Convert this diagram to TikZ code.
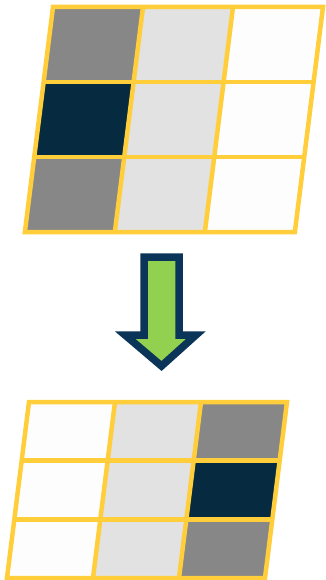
\documentclass[tikz,border=0pt]{standalone}
\usepackage{xcolor}
\usepackage{tikz}

\definecolor{gridyellow}{HTML}{FFCE3A}
\definecolor{celldark}{HTML}{062A3F}
\definecolor{cellgray}{HTML}{878787}
\definecolor{celllight}{HTML}{E2E2E2}
\definecolor{cellwhite}{HTML}{FDFDFD}
\definecolor{arrowgreen}{HTML}{92D050}
\definecolor{arrownavy}{HTML}{0B3558}

\tikzset{
    cell/.style={draw=black!35, line width=0.6pt},
    gridline/.style={draw=gridyellow, line width=4.5pt, line join=miter},
    bigarrow/.style={fill=arrowgreen, draw=arrownavy, line width=7.5pt, line join=miter}
}

\begin{document}
\begin{tikzpicture}[x=1pt, y=-1pt]

    \useasboundingbox (0,0) rectangle (326,580);

    % Top grid (before)
    \begin{scope}[shift={(53,7)}, xslant=0.125]
        \foreach \row/\colA/\colB/\colC in {0/cellgray/celllight/cellwhite,
                                              1/celldark/celllight/cellwhite,
                                              2/cellgray/celllight/cellwhite} {
            \fill[\colA] (0,\row*75) rectangle ++(90,75);
            \fill[\colB] (90,\row*75) rectangle ++(90,75);
            \fill[\colC] (180,\row*75) rectangle ++(90,75);
        }
        \foreach \k in {1,2} {
            \draw[gridline] (\k*90,0) -- (\k*90,225);
            \draw[gridline] (0,\k*75) -- (270,\k*75);
        }
        \draw[gridline] (0,0) rectangle (270,225);
    \end{scope}

    % Arrow
    \coordinate (shaft_tl) at (144,257);
    \coordinate (shaft_tr) at (179,257);
    \coordinate (head_r) at (196,335);
    \coordinate (head_l) at (125,335);
    \coordinate (tip) at (161.5,366);
    \draw[bigarrow] (shaft_tl) -- (shaft_tr) -- (179,335) -- (head_r) -- (tip)
        -- (head_l) -- (144,335) -- cycle;

    % Bottom grid (after)
    \begin{scope}[shift={(29,402)}, xslant=0.125]
        \foreach \row/\colA/\colB/\colC in {0/cellwhite/celllight/cellgray,
                                              1/cellwhite/celllight/celldark,
                                              2/cellwhite/celllight/cellgray} {
            \fill[\colA] (0,\row*58.67) rectangle ++(86,58.67);
            \fill[\colB] (86,\row*58.67) rectangle ++(86,58.67);
            \fill[\colC] (172,\row*58.67) rectangle ++(86,58.67);
        }
        \foreach \k in {1,2} {
            \draw[gridline] (\k*86,0) -- (\k*86,176);
            \draw[gridline] (0,\k*58.67) -- (258,\k*58.67);
        }
        \draw[gridline] (0,0) rectangle (258,176);
    \end{scope}

\end{tikzpicture}
\end{document}
